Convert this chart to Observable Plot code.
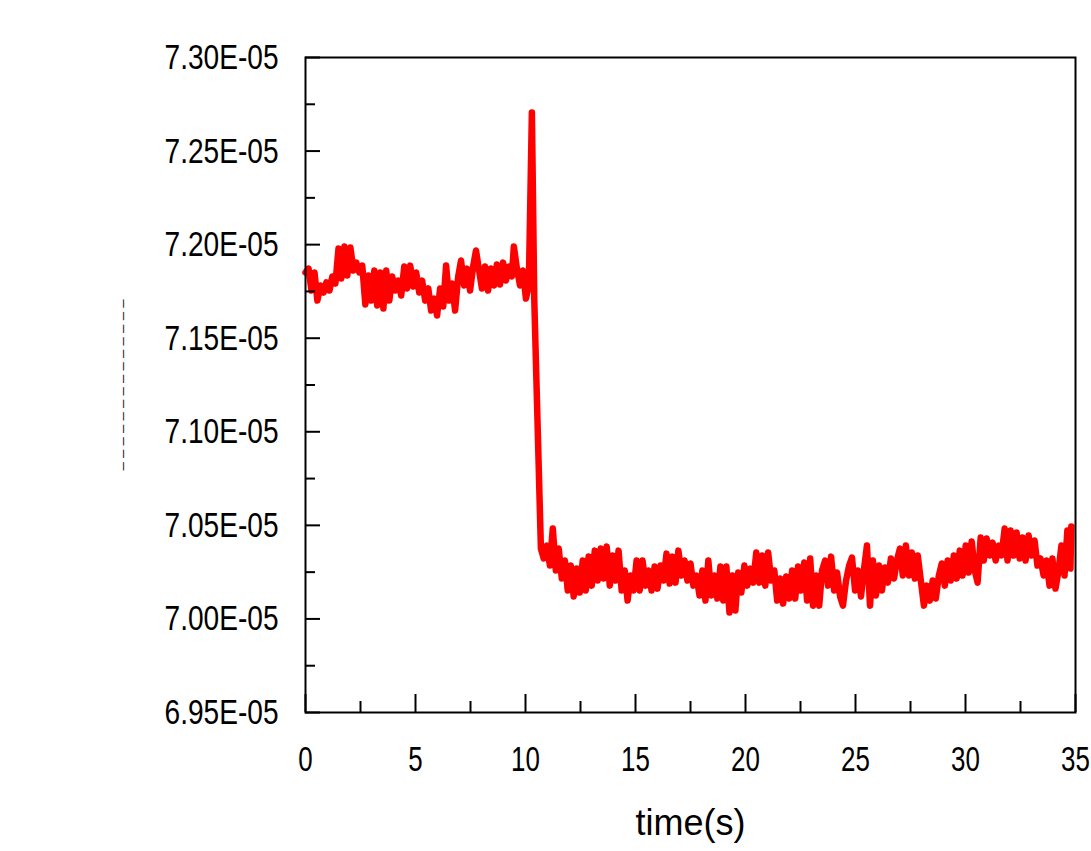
<!DOCTYPE html>
<html>
<head>
<meta charset="utf-8">
<script src="https://cdn.jsdelivr.net/npm/d3@7"></script>
<script src="https://cdn.jsdelivr.net/npm/@observablehq/plot@0.6"></script>
<style>
  html, body { margin: 0; padding: 0; background: #fff; }
</style>
</head>
<body>
<div id="chart"></div>
<script>
// time axis (s)
const timeS = [
  0.00,0.14,0.27,0.41,0.54,0.68,0.82,0.95,1.09,1.22,1.36,1.50,1.63,1.77,1.90,2.04,2.18,2.31,2.45,2.58,
  2.72,2.86,2.99,3.13,3.26,3.40,3.54,3.67,3.81,3.94,4.08,4.22,4.35,4.49,4.62,4.76,4.90,5.03,5.17,5.30,
  5.44,5.58,5.71,5.85,5.98,6.12,6.26,6.39,6.53,6.66,6.80,6.94,7.07,7.21,7.34,7.48,7.62,7.75,7.89,8.02,
  8.16,8.30,8.43,8.57,8.70,8.84,8.98,9.11,9.25,9.38,9.47,9.61,9.75,9.88,10.02,10.15,10.29,10.40,10.70,
  10.83,10.97,11.11,11.24,11.38,11.51,11.65,11.79,11.92,12.06,12.19,12.33,12.47,12.60,12.74,12.87,13.01,
  13.15,13.28,13.42,13.55,13.69,13.83,13.96,14.10,14.23,14.37,14.51,14.64,14.78,14.91,15.05,15.19,15.32,
  15.46,15.59,15.73,15.87,16.00,16.14,16.27,16.41,16.55,16.68,16.82,16.95,17.09,17.23,17.36,17.50,17.63,
  17.77,17.91,18.04,18.18,18.31,18.45,18.59,18.72,18.86,18.99,19.13,19.27,19.40,19.54,19.67,19.81,19.95,
  20.08,20.22,20.35,20.49,20.63,20.76,20.90,21.03,21.17,21.31,21.44,21.58,21.71,21.85,21.99,22.12,22.26,
  22.39,22.53,22.67,22.80,22.94,23.07,23.21,23.35,23.48,23.62,23.75,23.89,24.03,24.16,24.30,24.43,24.57,
  24.71,24.84,24.98,25.11,25.25,25.39,25.52,25.66,25.79,25.93,26.07,26.20,26.34,26.47,26.61,26.75,26.88,
  27.02,27.15,27.29,27.43,27.56,27.70,27.83,27.97,28.11,28.24,28.38,28.51,28.65,28.79,28.92,29.06,29.19,
  29.33,29.47,29.60,29.74,29.87,30.01,30.15,30.28,30.42,30.55,30.69,30.83,30.96,31.10,31.23,31.37,31.51,
  31.64,31.78,31.91,32.05,32.19,32.32,32.46,32.59,32.73,32.87,33.00,33.14,33.27,33.41,33.55,33.68,33.82,
  33.95,34.09,34.23,34.36,34.50,34.63,34.77,34.81
];
// signal, in units of 1E-05
const signal = [
  7.1851,7.1872,7.1755,7.1851,7.1701,7.1782,7.1744,7.1798,7.1755,7.1830,7.1792,7.1979,7.1819,7.1990,7.1835,7.1985,7.1862,7.1904,7.1851,7.1888,
  7.1680,7.1835,7.1701,7.1862,7.1675,7.1851,7.1659,7.1862,7.1701,7.1830,7.1755,7.1808,7.1728,7.1883,7.1766,7.1888,7.1776,7.1851,7.1744,7.1808,
  7.1701,7.1766,7.1648,7.1712,7.1621,7.1766,7.1669,7.1888,7.1701,7.1792,7.1648,7.1830,7.1915,7.1782,7.1872,7.1755,7.1883,7.1969,7.1862,7.1766,
  7.1883,7.1755,7.1872,7.1782,7.1894,7.1787,7.1904,7.1808,7.1883,7.1830,7.1990,7.1872,7.1782,7.1862,7.1712,7.1782,7.2706,7.1701,7.0376,
  7.0323,7.0392,7.0285,7.0483,7.0259,7.0376,7.0216,7.0312,7.0152,7.0285,7.0120,7.0269,7.0141,7.0312,7.0152,7.0333,7.0178,
  7.0365,7.0205,7.0376,7.0216,7.0387,7.0178,7.0339,7.0205,7.0365,7.0152,7.0259,7.0098,7.0232,7.0152,7.0312,7.0152,7.0312,
  7.0178,7.0259,7.0152,7.0280,7.0162,7.0285,7.0205,7.0349,7.0189,7.0333,7.0194,7.0365,7.0232,7.0312,7.0205,7.0296,7.0178,
  7.0232,7.0125,7.0259,7.0098,7.0312,7.0125,7.0232,7.0109,7.0280,7.0098,7.0280,7.0034,7.0232,7.0045,7.0248,7.0141,7.0285,
  7.0178,7.0269,7.0194,7.0355,7.0194,7.0339,7.0178,7.0355,7.0205,7.0259,7.0098,7.0216,7.0082,7.0227,7.0109,7.0259,7.0109,
  7.0280,7.0152,7.0301,7.0098,7.0323,7.0071,7.0232,7.0071,7.0259,7.0312,7.0178,7.0333,7.0152,7.0248,7.0120,7.0071,7.0205,
  7.0285,7.0328,7.0152,7.0259,7.0120,7.0269,7.0392,7.0071,7.0312,7.0125,7.0285,7.0152,7.0275,7.0194,7.0323,7.0216,7.0312,
  7.0376,7.0232,7.0392,7.0232,7.0355,7.0216,7.0339,7.0205,7.0071,7.0178,7.0098,7.0205,7.0109,7.0232,7.0296,7.0178,7.0312,
  7.0205,7.0339,7.0216,7.0365,7.0232,7.0392,7.0248,7.0414,7.0259,7.0194,7.0435,7.0312,7.0430,7.0339,7.0408,7.0312,7.0392,
  7.0339,7.0483,7.0312,7.0472,7.0339,7.0462,7.0323,7.0435,7.0312,7.0446,7.0339,7.0419,7.0285,7.0323,7.0232,7.0312,7.0178,
  7.0323,7.0162,7.0259,7.0392,7.0232,7.0472,7.0269,7.0494
];

// axis ticks
const yMajor = [6.95, 7.00, 7.05, 7.10, 7.15, 7.20, 7.25, 7.30];
const yMinor = [6.975, 7.025, 7.075, 7.125, 7.175, 7.225, 7.275];
const yTickLabels = ["6.95E-05", "7.00E-05", "7.05E-05", "7.10E-05", "7.15E-05", "7.20E-05", "7.25E-05", "7.30E-05"];
const xMajor = [0, 5, 10, 15, 20, 25, 30, 35];
const xMinor = [2.5, 7.5, 12.5, 17.5, 22.5, 27.5, 32.5];
const xLabel = "time(s)";
const yLabel = "– – – – – – – – – – – – – –";

const data = timeS.map((t, i) => ({t, v: signal[i]}));

const font = "'Liberation Sans Narrow', 'Liberation Sans', Arial, sans-serif";

const chart = Plot.plot({
  width: 1091,
  height: 851,
  marginLeft: 305,
  marginRight: 16,
  marginTop: 57,
  marginBottom: 139,
  style: {fontFamily: font, background: "#fff", color: "#000"},
  x: {domain: [0, 35], label: null},
  y: {domain: [6.95, 7.30], label: null},
  marks: [
    Plot.line(data, {x: "t", y: "v", stroke: "#ff0000", strokeWidth: 6.5, strokeLinejoin: "round"}),
    Plot.frame({stroke: "#000", strokeWidth: 2}),
    Plot.axisY({ticks: yMajor, tickSize: -15, tickFormat: () => "", strokeWidth: 2, label: null}),
    Plot.axisY({ticks: yMinor, tickSize: -10, tickFormat: () => "", strokeWidth: 2, label: null}),
    Plot.axisY({ticks: yMajor, tickSize: 0, tickPadding: 27, fontSize: 36,
      tickFormat: d => yTickLabels[yMajor.indexOf(d)], label: null}),
    Plot.axisX({ticks: xMajor, tickSize: -18, tickFormat: () => "", strokeWidth: 2, label: null}),
    Plot.axisX({ticks: xMinor, tickSize: -11, tickFormat: () => "", strokeWidth: 2, label: null}),
    Plot.axisX({ticks: xMajor, tickSize: 0, tickPadding: 33, fontSize: 36, tickFormat: d => String(d), label: null}),
    Plot.text([xLabel], {frameAnchor: "bottom", dy: 122, text: d => d, fontSize: 36, fill: "#000"}),
    Plot.text([yLabel], {frameAnchor: "left", dx: -183, rotate: -90, textAnchor: "middle", text: d => d, fontSize: 15, fill: "#222"})
  ]
});

document.getElementById("chart").appendChild(chart);

// condense tick-label glyphs horizontally (scale about each label's anchor point)
function condense(selector, k) {
  chart.querySelectorAll(selector).forEach(t => {
    const tr = t.getAttribute("transform") || "";
    t.setAttribute("transform", (tr + ` scale(${k},1)`).trim());
  });
}
condense('[aria-label="y-axis tick label"] text', 0.78);
condense('[aria-label="x-axis tick label"] text', 0.72);
</script>
</body>
</html>
